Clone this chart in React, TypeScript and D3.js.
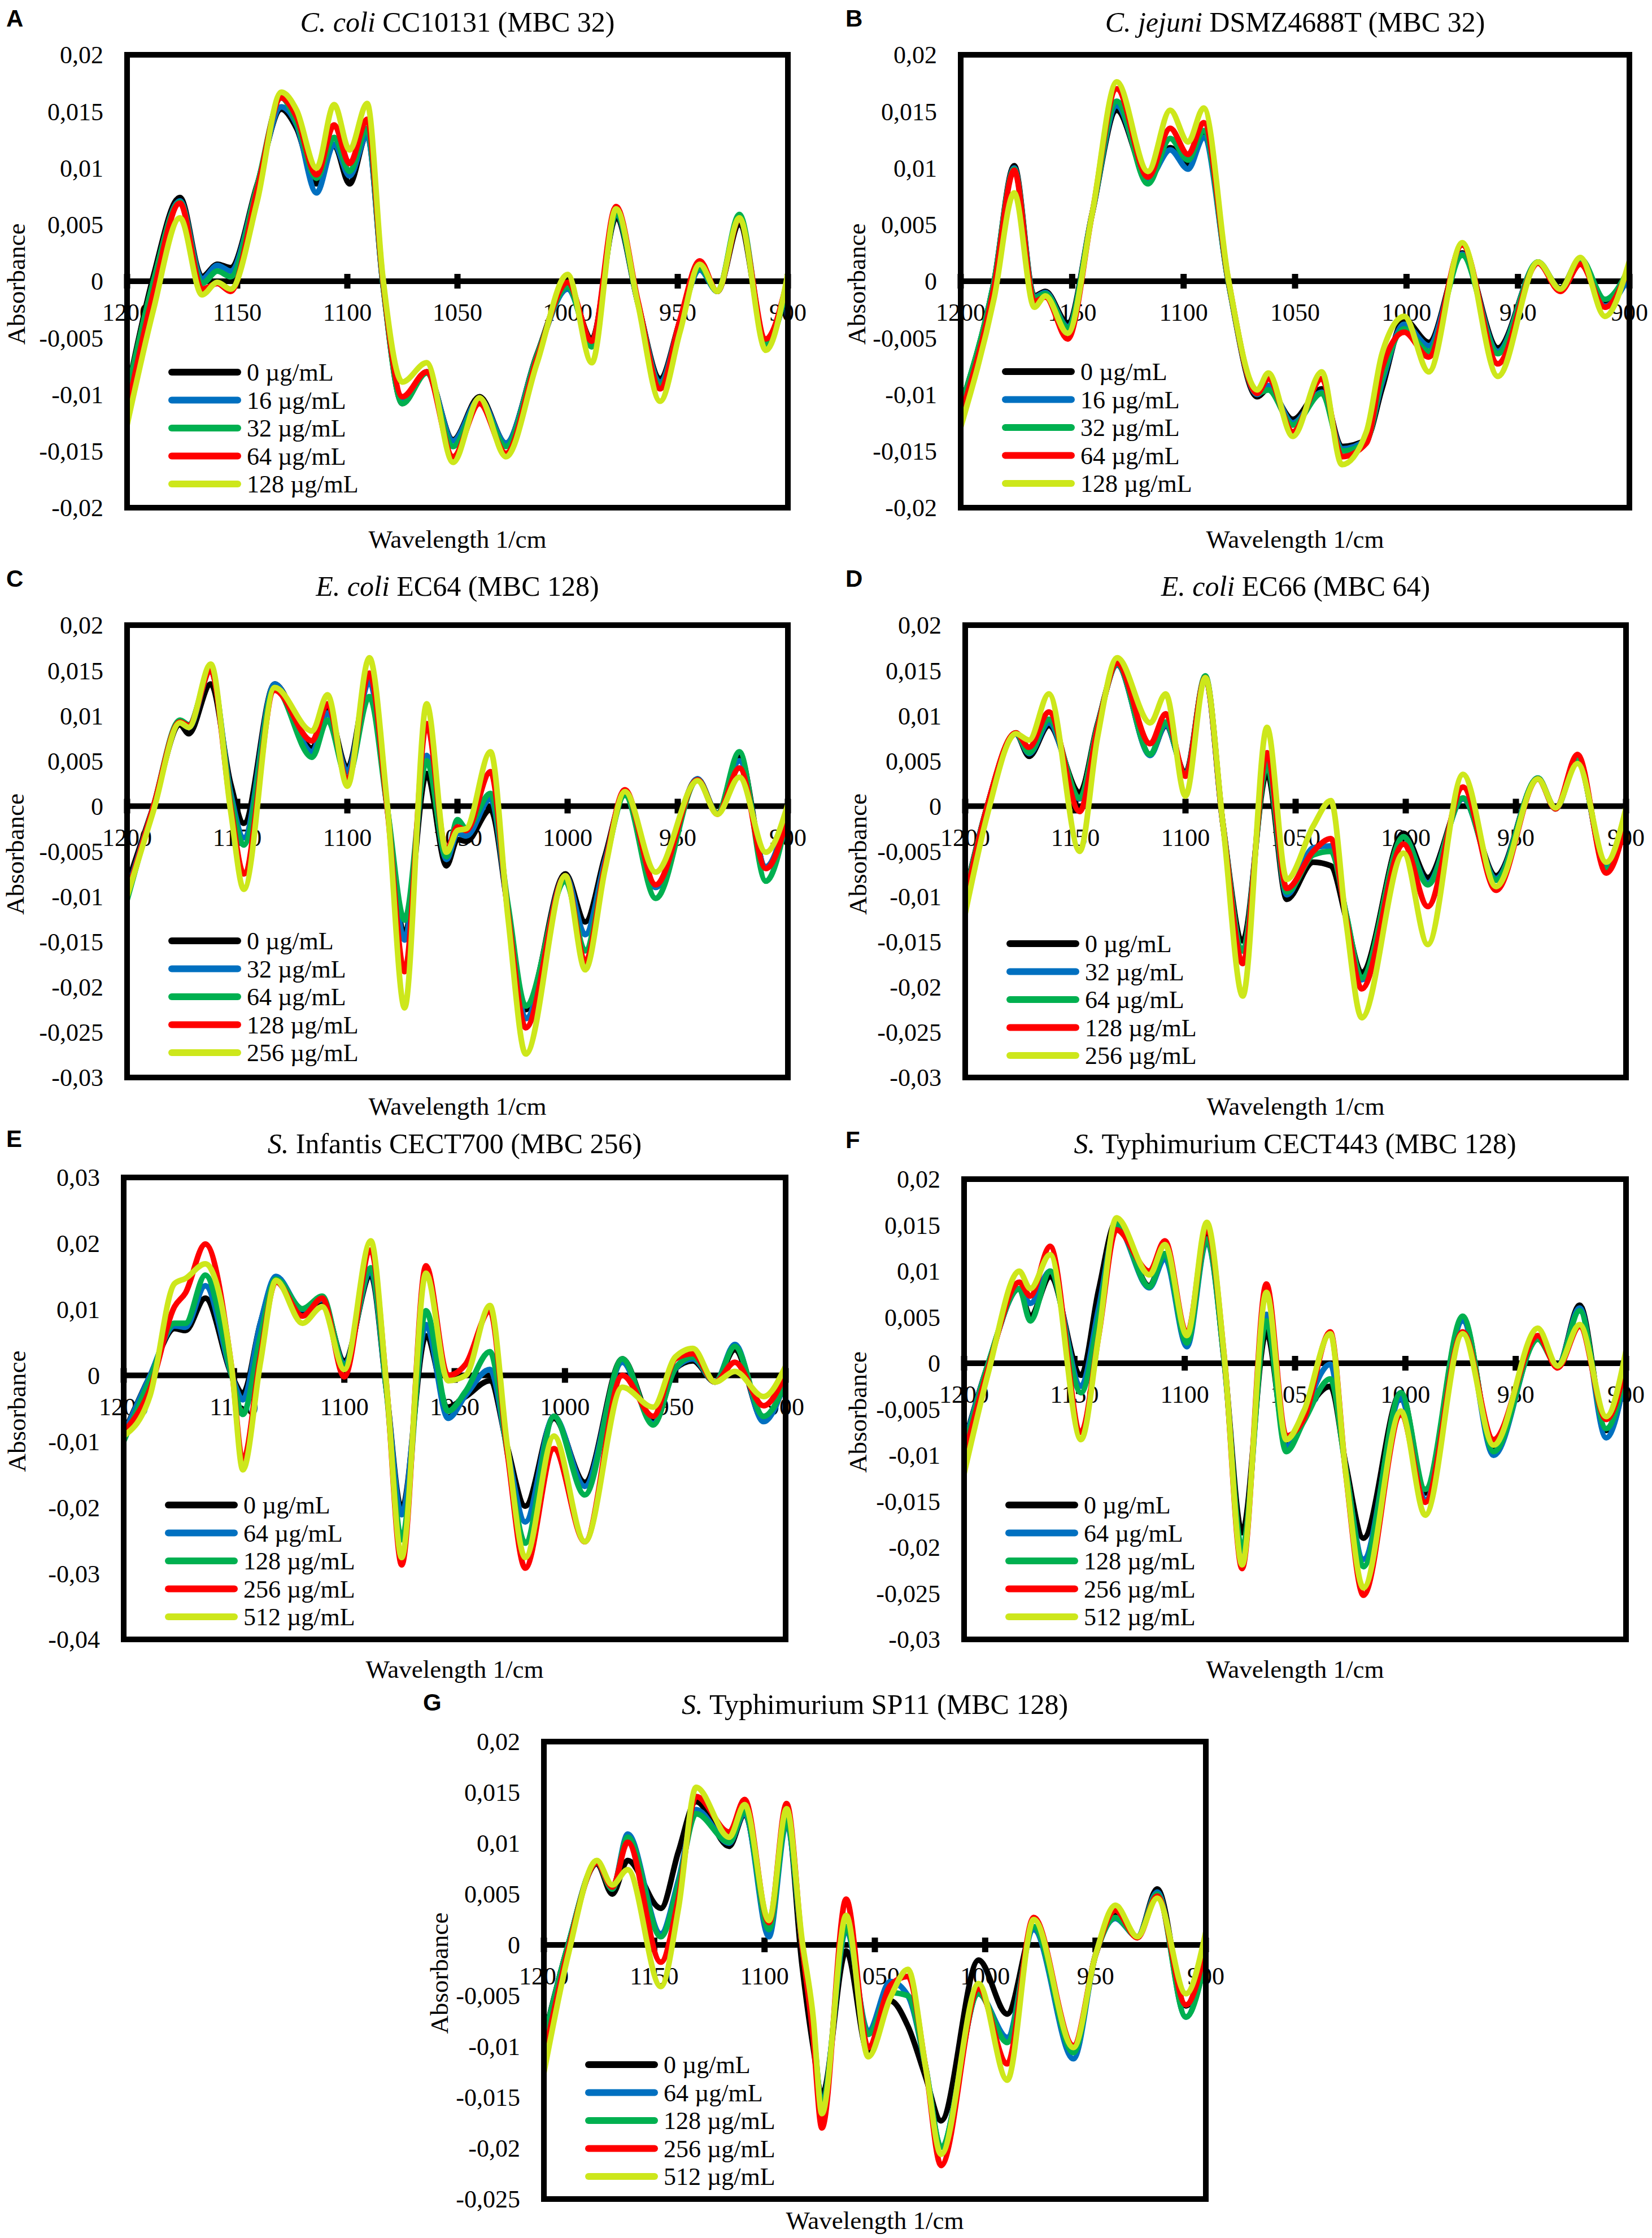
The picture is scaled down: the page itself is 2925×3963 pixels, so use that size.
import * as d3 from 'd3'

const W = 2925
const H = 3963

const seriesColors = ['#000000', '#0070c0', '#00b050', '#ff0000', '#cde71b']
const wavenumberTicks = [1200, 1150, 1100, 1050, 1000, 950, 900]

// y tick labels (absorbance)
const ticks20to20 = [0.02, 0.015, 0.01, 0.005, 0, -0.005, -0.01, -0.015, -0.02]
const ticks20to30 = [0.02, 0.015, 0.01, 0.005, 0, -0.005, -0.01, -0.015, -0.02, -0.025, -0.03]
const ticks30to40 = [0.03, 0.02, 0.01, 0, -0.01, -0.02, -0.03, -0.04]
const ticks20to25 = [0.02, 0.015, 0.01, 0.005, 0, -0.005, -0.01, -0.015, -0.02, -0.025]

const concCampy = [0, 16, 32, 64, 128]
const concEcoli = [0, 32, 64, 128, 256]
const concSalm = [0, 64, 128, 256, 512]

// absorbance values below are in units of 0.001

// A  C. coli CC10131
const panelAWavenumbers = [1200, 1188, 1176, 1166, 1159, 1153, 1141, 1130, 1123, 1114, 1106, 1099, 1091, 1084, 1075, 1064, 1052, 1040, 1028, 1014, 1000, 989, 978, 968, 958, 949, 940, 932, 922, 910, 900]
const panelA0 = [-9.9, 0.5, 7.4, 0.4, 1.5, 1.2, 8.5, 15.2, 13.5, 8.6, 12.0, 8.6, 13.0, 0, -10.8, -8.0, -14.0, -10.2, -14.3, -6.5, -0.4, -5.1, 5.6, -2.0, -8.6, -3.5, 1.3, -0.9, 5.0, -5.3, -0.4]
const panelA16 = [-10.2, 0, 7.1, 0.2, 1.4, 0.9, 8.3, 15.4, 13.8, 7.8, 12.1, 9.3, 12.9, 0, -10.6, -8.0, -14.1, -10.4, -14.3, -6.6, -0.7, -5.3, 5.9, -2.0, -8.9, -3.6, 1.0, -0.9, 5.6, -5.5, -0.3]
const panelA32 = [-10.0, 0, 7.0, -0.2, 0.9, 0.4, 8.4, 16.2, 14.0, 9.1, 12.7, 9.7, 13.5, 0, -10.8, -8.1, -14.6, -10.6, -14.6, -6.6, -0.5, -5.8, 6.0, -2.0, -9.2, -3.7, 1.2, -0.9, 5.9, -5.6, -0.1]
const panelA64 = [-11.5, -1.0, 6.9, -0.7, -0.2, -0.9, 8.0, 16.2, 14.5, 9.4, 13.8, 10.4, 14.3, 0.3, -10.2, -8.0, -15.5, -10.8, -15.2, -6.9, -0.1, -5.3, 6.6, -1.8, -9.5, -3.4, 1.8, -0.9, 5.4, -5.1, 0.3]
const panelA128 = [-12.7, -2.5, 5.6, -1.2, -0.1, -0.7, 7.0, 16.7, 15.1, 10.0, 15.6, 11.6, 15.7, 0.6, -8.9, -7.2, -16.0, -10.3, -15.5, -7.3, 0.6, -7.2, 6.4, -2.1, -10.6, -4.5, 1.5, -0.9, 5.6, -6.1, 0.7]

// B  C. jejuni DSMZ4688T
const panelBWavenumbers = [1200, 1185, 1176, 1167, 1162, 1152, 1141, 1130, 1116, 1106, 1098, 1091, 1080, 1067, 1062, 1051, 1038, 1029, 1018, 1011, 1001, 990, 975, 959, 941, 931, 922, 911, 900]
const panelB0 = [-11.1, 0, 10.2, -1.3, -0.9, -3.7, 6.0, 15.1, 9.1, 11.8, 10.3, 13.2, 0, -10.2, -9.5, -12.2, -9.5, -14.6, -14.0, -9.5, -3.4, -5.4, 2.5, -5.9, 1.6, -0.6, 2.0, -2.0, 0.9]
const panelB16 = [-11.2, 0, 10.0, -1.4, -1.0, -4.0, 6.0, 15.5, 9.0, 11.6, 9.9, 12.7, 0, -10.0, -9.2, -12.5, -9.8, -14.8, -14.0, -9.0, -3.8, -5.7, 2.4, -6.2, 1.7, -0.7, 2.0, -2.2, 0.5]
const panelB32 = [-11.1, 0, 9.9, -1.5, -1.1, -4.1, 6.0, 15.9, 8.6, 12.6, 10.7, 13.3, 0, -9.9, -9.6, -12.7, -9.9, -15.0, -14.2, -8.6, -4.2, -6.2, 2.3, -6.4, 1.7, -0.7, 2.0, -1.6, 1.2]
const panelB64 = [-11.9, -0.5, 9.8, -1.8, -1.4, -5.1, 6.0, 17.0, 9.2, 13.5, 11.2, 14.0, 0.2, -9.9, -8.6, -13.3, -8.6, -15.5, -14.3, -7.7, -4.5, -6.7, 3.2, -7.3, 1.6, -0.9, 1.5, -2.3, 1.3]
const panelB128 = [-12.9, -1.5, 7.8, -2.3, -1.3, -4.6, 6.0, 17.6, 9.7, 15.1, 12.3, 15.3, 0.3, -9.6, -8.1, -13.7, -8.0, -16.2, -13.3, -6.4, -3.1, -8.0, 3.4, -8.4, 1.7, -0.7, 2.1, -3.1, 1.8]

// C  E. coli EC64
const panelCWavenumbers = [1200, 1188, 1176, 1172, 1162, 1153, 1147, 1133, 1116, 1109, 1100, 1090, 1082, 1074, 1064, 1055, 1050, 1046, 1035, 1027, 1019, 1001, 992, 983, 974, 960, 941, 932, 922, 910, 900]
const panelC0 = [-8.7, 0, 9.0, 8.0, 13.5, 2.5, -1.9, 13.5, 6.4, 10.7, 4.2, 14.3, 0, -14.2, 3.6, -6.6, -3.7, -3.9, -0.4, -11.5, -22.5, -7.5, -12.8, -5.5, 1.4, -8.9, 3.0, -0.8, 5.6, -6.8, -0.4]
const panelC32 = [-9.5, 0, 9.2, 8.7, 15.0, 1.5, -3.5, 13.5, 6.0, 10.3, 3.8, 13.8, 0, -14.8, 5.6, -5.9, -3.0, -3.3, 0.8, -11.5, -23.5, -7.7, -14.2, -6.0, 1.3, -9.0, 3.0, -0.8, 5.0, -6.7, -0.6]
const panelC64 = [-10.4, 0, 9.5, 9.0, 15.1, 1.0, -4.3, 13.1, 5.4, 9.5, 3.0, 12.1, 0, -12.6, 5.0, -5.6, -1.5, -2.5, 1.4, -11.0, -22.1, -8.3, -16.0, -6.5, 1.2, -10.2, 2.9, -0.8, 6.0, -8.3, -0.8]
const panelC128 = [-9.8, 0, 9.3, 8.9, 15.0, 0, -7.5, 12.8, 7.2, 11.3, 2.8, 14.7, 0, -18.3, 9.1, -4.9, -2.3, -2.7, 3.8, -12.0, -24.5, -7.7, -17.2, -6.5, 1.8, -8.7, 2.9, -0.9, 4.2, -6.9, -1.1]
const panelC256 = [-10.0, -0.5, 9.2, 8.7, 15.7, -0.5, -9.2, 13.1, 8.3, 12.3, 2.2, 16.4, 0.5, -22.3, 11.3, -5.1, -2.7, -2.5, 6.0, -12.5, -27.4, -7.7, -18.1, -7.0, 1.6, -7.3, 2.8, -0.9, 3.2, -5.1, 0.2]

// D  E. coli EC66
const panelDWavenumbers = [1200, 1190, 1177, 1171, 1162, 1148, 1140, 1131, 1116, 1109, 1100, 1091, 1083, 1074, 1063, 1054, 1042, 1034, 1027, 1020, 1001, 990, 974, 959, 940, 932, 922, 909, 900]
const panelD0 = [-9.7, 0, 8.0, 5.5, 8.9, 1.5, 9.0, 15.6, 5.7, 8.9, 3.7, 14.2, -2, -14.9, 3.7, -10.3, -6.2, -6.6, -12.5, -18.4, -3.0, -7.9, 0.8, -7.7, 3.0, -0.2, 5.0, -6.8, -0.8]
const panelD32 = [-10.0, 0, 8.0, 5.8, 9.2, 0.8, 8.8, 15.6, 5.6, 9.0, 3.5, 14.2, -2, -16.0, 4.8, -9.8, -4.6, -4.4, -12.0, -19.2, -3.4, -8.5, 0.8, -8.0, 3.1, -0.3, 5.0, -6.8, -0.8]
const panelD64 = [-10.0, 0, 8.1, 5.9, 9.6, 0.9, 8.8, 15.7, 5.7, 9.3, 3.4, 14.4, -2, -16.0, 4.5, -9.5, -5.4, -5.0, -12.0, -19.0, -3.4, -8.7, 0.9, -8.2, 3.1, -0.3, 5.2, -7.0, -0.8]
const panelD128 = [-10.5, 0, 8.1, 6.5, 10.4, -0.6, 8.5, 15.8, 6.9, 10.2, 3.3, 14.2, -2, -17.4, 5.9, -9.1, -5.0, -3.6, -12.5, -20.2, -4.2, -11.1, 2.1, -9.3, 3.0, -0.3, 5.7, -7.4, -1.8]
const panelD256 = [-11.9, -1, 8.0, 7.3, 12.4, -5.0, 7.5, 16.4, 9.2, 12.4, 1.1, 14.2, -2, -21.0, 8.7, -8.1, -2.2, 0.6, -13.0, -23.4, -5.2, -15.3, 3.5, -8.9, 3.0, -0.2, 4.7, -6.2, -0.2]

// E  S. Infantis CECT700
const panelEWavenumbers = [1200, 1188, 1177, 1172, 1163, 1151, 1146, 1138, 1131, 1119, 1110, 1100, 1088, 1081, 1074, 1063, 1053, 1045, 1034, 1026, 1018, 1005, 991, 974, 960, 950, 942, 932, 923, 910, 900]
const panelE0 = [-8.8, 0, 7.1, 6.8, 11.7, 0, -2.7, 8, 14.7, 9.8, 11.3, 2.2, 15.2, -2, -20.3, 6.0, -4.8, -3.2, -0.8, -11, -19.8, -6.5, -16.2, 2.5, -7.0, 1.0, 2.2, -1.0, 3.9, -6.8, -0.8]
const panelE64 = [-9.0, 0, 7.5, 7.3, 13.6, 0, -3.7, 8, 15.0, 10.0, 11.5, 1.8, 15.8, -2, -21.1, 7.7, -6.5, -3.0, 0.9, -11.5, -22.2, -6.2, -16.8, 2.0, -7.3, 1.0, 2.5, -1.0, 4.7, -7.0, -0.8]
const panelE128 = [-10.0, -0.5, 7.9, 7.9, 15.2, 0, -5.9, 6, 14.6, 10.1, 12.0, 1.5, 16.3, -2, -24.9, 9.8, -5.4, -2.4, 3.6, -12, -25.4, -6.2, -18.1, 2.5, -7.5, 1.1, 2.8, -1.0, 4.4, -6.2, -1.0]
const panelE256 = [-8.6, -2, 10.4, 12.5, 19.9, 1, -13.0, 3, 14.2, 9.0, 11.7, -0.2, 19.0, -1, -28.7, 16.6, 0, 1.7, 9.8, -12, -29.2, -11.1, -25.2, 0, -6.2, 2.5, 3.3, -1.0, 2.0, -4.6, 0.3]
const panelE512 = [-9.2, -3, 13.9, 14.7, 16.9, 1, -14.3, 2, 14.4, 7.9, 10.4, 0.9, 20.4, -1, -27.6, 15.5, -0.8, 0, 10.6, -11, -27.6, -9.2, -25.2, -1.8, -4.8, 2.8, 4.1, -1.0, 0.6, -3.2, 1.4]

// F  S. Typhimurium CECT443
const panelFWavenumbers = [1200, 1189, 1175, 1170, 1161, 1147, 1139, 1131, 1116, 1109, 1099, 1090, 1082, 1074, 1063, 1054, 1046, 1034, 1027, 1019, 1002, 991, 974, 960, 940, 931, 921, 909, 900]
const panelF0 = [-8.7, 0, 8.1, 5.1, 9.4, -1.3, 8, 15.4, 8.4, 11.9, 2.6, 14.2, 0, -18.4, 3.4, -8.7, -5.6, -2.5, -11, -19.0, -3.2, -14.1, 4.9, -9.4, 2.8, -0.3, 6.3, -7.3, -1.0]
const panelF64 = [-8.9, 0, 8.1, 6.5, 10.0, -2.5, 6, 15.0, 8.2, 11.4, 1.8, 13.3, 0, -20.5, 5.3, -9.1, -5.2, -0.1, -11.5, -21.3, -3.8, -14.9, 4.6, -10.0, 2.7, -0.3, 6.0, -8.1, -1.1]
const panelF128 = [-9.5, 0, 8.1, 4.6, 10.0, -3.2, 5, 15.2, 8.3, 11.9, 2.2, 13.5, 0, -20.2, 4.6, -9.6, -6.3, -1.7, -11.5, -22.1, -3.2, -13.7, 5.1, -9.6, 2.6, -0.3, 5.7, -7.1, -0.6]
const panelF256 = [-10.2, -0.5, 8.8, 7.3, 12.7, -7.5, 3, 14.5, 10.0, 13.3, 3.2, 14.7, 0.5, -22.3, 8.6, -7.9, -6.0, 3.4, -12, -25.2, -5.6, -15.1, 3.4, -8.3, 3.0, -0.5, 4.0, -6.1, -0.1]
const panelF512 = [-12.0, -1, 10.0, 8.1, 11.8, -8.3, 3, 15.8, 9.6, 12.9, 3.0, 15.3, 0.5, -21.9, 7.7, -8.3, -5.2, 3.2, -12, -24.4, -5.2, -16.5, 3.2, -8.9, 3.8, -0.3, 4.2, -5.8, 1.4]

// G  S. Typhimurium SP11
const panelGWavenumbers = [1200, 1189, 1176, 1169, 1162, 1147, 1139, 1131, 1116, 1109, 1098, 1090, 1083, 1078, 1074, 1063, 1053, 1043, 1035, 1027, 1020, 1003, 990, 978, 960, 950, 941, 931, 922, 909, 900]
const panelG0 = [-9.2, 0, 8.0, 5.0, 8.3, 3.6, 9.2, 14.1, 9.7, 12.9, 1.6, 12.6, -2, -10, -14.8, -0.6, -10.6, -5.5, -8.0, -13, -17.3, -1.5, -6.8, 1.6, -10.5, -1, 2.9, 0.8, 5.5, -6.0, -0.6]
const panelG64 = [-9.4, 0, 8.1, 5.5, 10.9, 1.1, 6.4, 13.3, 10.0, 13.0, 0.8, 12.0, 0, -8, -15.7, 1.5, -8.5, -3.6, -5.0, -12, -19.9, -4.8, -9.1, 1.5, -11.2, -1, 2.6, 0.8, 5.2, -7.1, -0.8]
const panelG128 = [-9.4, 0, 8.1, 5.5, 10.6, 0.8, 6.0, 12.9, 10.1, 13.2, 1.5, 12.3, 0, -8, -15.9, 1.8, -8.8, -4.7, -5.0, -12, -19.9, -4.8, -9.6, 1.8, -10.6, -1, 2.7, 0.8, 5.0, -7.1, -1.3]
const panelG256 = [-11.2, -0.5, 8.1, 5.7, 10.1, -1.7, 4.6, 14.6, 11.1, 14.3, 2.2, 13.9, 0, -9, -18.0, 4.5, -10.1, -4.0, -3.1, -12, -21.7, -4.3, -11.7, 2.7, -9.9, -1, 3.4, 0.7, 4.8, -5.9, -0.1]
const panelG512 = [-12.6, -1, 8.3, 5.9, 7.4, -4.1, 3.6, 15.5, 10.6, 13.8, 2.4, 13.4, 0.5, -7, -16.6, 2.9, -11.0, -5.2, -2.4, -12, -20.6, -3.8, -13.3, 2.5, -10.1, -1, 3.9, 0.8, 4.6, -4.8, 1.3]

interface Panel {
  letter: string
  letterX: number
  letterY: number
  species: string
  strain: string
  titleY: number
  box: [number, number, number, number]
  yTicks: number[]
  wavenumbers: number[]
  series: number[][]
  concentrations: number[]
  absOffset: number
  legendGap: number
  xTitleGap: number
}

const panels: Panel[] = [
  { letter: 'A', letterX: 11, letterY: 47, species: 'C. coli', strain: ' CC10131 (MBC 32)', titleY: 56, box: [225, 97, 1395, 899], yTicks: ticks20to20, wavenumbers: panelAWavenumbers, series: [panelA0, panelA16, panelA32, panelA64, panelA128], concentrations: concCampy, absOffset: 197, legendGap: 42, xTitleGap: 55 },
  { letter: 'B', letterX: 1497, letterY: 47, species: 'C. jejuni', strain: ' DSMZ4688T (MBC 32)', titleY: 56, box: [1701, 97, 2885, 899], yTicks: ticks20to20, wavenumbers: panelBWavenumbers, series: [panelB0, panelB16, panelB32, panelB64, panelB128], concentrations: concCampy, absOffset: 185, legendGap: 43, xTitleGap: 55 },
  { letter: 'C', letterX: 11, letterY: 1039, species: 'E. coli', strain: ' EC64 (MBC 128)', titleY: 1055, box: [225, 1107, 1395, 1908], yTicks: ticks20to30, wavenumbers: panelCWavenumbers, series: [panelC0, panelC32, panelC64, panelC128, panelC256], concentrations: concEcoli, absOffset: 199, legendGap: 44, xTitleGap: 50 },
  { letter: 'D', letterX: 1497, letterY: 1039, species: 'E. coli', strain: ' EC66 (MBC 64)', titleY: 1055, box: [1709, 1107, 2879, 1908], yTicks: ticks20to30, wavenumbers: panelDWavenumbers, series: [panelD0, panelD32, panelD64, panelD128, panelD256], concentrations: concEcoli, absOffset: 191, legendGap: 39, xTitleGap: 50 },
  { letter: 'E', letterX: 11, letterY: 2031, species: 'S.', strain: ' Infantis CECT700 (MBC 256)', titleY: 2042, box: [219, 2085, 1391, 2903], yTicks: ticks30to40, wavenumbers: panelEWavenumbers, series: [panelE0, panelE64, panelE128, panelE256, panelE512], concentrations: concSalm, absOffset: 190, legendGap: 40, xTitleGap: 52 },
  { letter: 'F', letterX: 1497, letterY: 2033, species: 'S.', strain: ' Typhimurium CECT443 (MBC 128)', titleY: 2042, box: [1707, 2088, 2879, 2903], yTicks: ticks20to30, wavenumbers: panelFWavenumbers, series: [panelF0, panelF64, panelF128, panelF256, panelF512], concentrations: concSalm, absOffset: 189, legendGap: 40, xTitleGap: 52 },
  { letter: 'G', letterX: 749, letterY: 3029, species: 'S.', strain: ' Typhimurium SP11 (MBC 128)', titleY: 3035, box: [963, 3084, 2135, 3894], yTicks: ticks20to25, wavenumbers: panelGWavenumbers, series: [panelG0, panelG64, panelG128, panelG256, panelG512], concentrations: concSalm, absOffset: 186, legendGap: 40, xTitleGap: 37 },
]

const serif = '"Liberation Serif", "Times New Roman", serif'
const sans = '"Liberation Sans", Arial, sans-serif'

const fmtTick = (v: number) => String(+v.toFixed(3)).replace('.', ',')

function SpectrumPanel({ p }: { p: Panel }) {
  const [left, top, right, bottom] = p.box
  const x = d3.scaleLinear().domain([1200, 900]).range([left, right])
  const yMax = d3.max(p.yTicks) as number
  const yMin = d3.min(p.yTicks) as number
  const y = d3.scaleLinear().domain([yMin, yMax]).range([bottom, top])
  const zeroY = y(0)
  const midX = (left + right) / 2

  const line = d3
    .line<number>()
    .x((_, i) => x(p.wavenumbers[i]))
    .y((v) => y(v / 1000))
    .curve(d3.curveMonotoneX)

  const rowGap = 49.5
  const lastRow = bottom - p.legendGap

  return (
    <g>
      <text x={p.letterX} y={p.letterY} fontFamily={sans} fontWeight="bold" fontSize={42}>
        {p.letter}
      </text>
      <text x={midX} y={p.titleY} textAnchor="middle" fontFamily={serif} fontSize={50}>
        <tspan fontStyle="italic">{p.species}</tspan>
        <tspan>{p.strain}</tspan>
      </text>

      {p.yTicks.map((t) => (
        <text key={t} x={left - 42} y={y(t)} dy="0.35em" textAnchor="end" fontFamily={serif} fontSize={44}>
          {fmtTick(t)}
        </text>
      ))}

      <text
        transform={`translate(${left - p.absOffset}, ${(top + bottom) / 2 + 5}) rotate(-90)`}
        textAnchor="middle"
        dy="0.35em"
        fontFamily={serif}
        fontSize={45}
      >
        Absorbance
      </text>
      <text x={midX} y={bottom + p.xTitleGap} dy="0.35em" textAnchor="middle" fontFamily={serif} fontSize={45}>
        Wavelength 1/cm
      </text>

      {wavenumberTicks.map((t) => (
        <text key={t} x={x(t)} y={zeroY + 55} dy="0.35em" textAnchor="middle" fontFamily={serif} fontSize={44}>
          {t}
        </text>
      ))}

      <line x1={left} x2={right} y1={zeroY} y2={zeroY} stroke="#000" strokeWidth={10} />
      {wavenumberTicks.map((t) => (
        <line key={t} x1={x(t)} x2={x(t)} y1={zeroY - 13} y2={zeroY + 13} stroke="#000" strokeWidth={11} />
      ))}

      {p.series.map((s, i) => (
        <path key={i} d={line(s) ?? ''} fill="none" stroke={seriesColors[i]} strokeWidth={10} strokeLinejoin="round" />
      ))}

      <rect x={left} y={top} width={right - left} height={bottom - top} fill="none" stroke="#000" strokeWidth={10} />

      {p.concentrations.map((c, i) => {
        const ly = lastRow - rowGap * (p.concentrations.length - 1 - i)
        return (
          <g key={c}>
            <line x1={left + 79} x2={left + 196} y1={ly} y2={ly} stroke={seriesColors[i]} strokeWidth={12} strokeLinecap="round" />
            <text x={left + 212} y={ly} dy="0.35em" fontFamily={serif} fontSize={44}>
              {`${c} µg/mL`}
            </text>
          </g>
        )
      })}
    </g>
  )
}

export default function App() {
  return (
    <svg
      width={W}
      height={H}
      viewBox={`0 0 ${W} ${H}`}
      style={{ position: 'absolute', left: 0, top: 0, background: '#fff' }}
    >
      <rect width={W} height={H} fill="#fff" />
      {panels.map((p) => (
        <SpectrumPanel key={p.letter} p={p} />
      ))}
    </svg>
  )
}
